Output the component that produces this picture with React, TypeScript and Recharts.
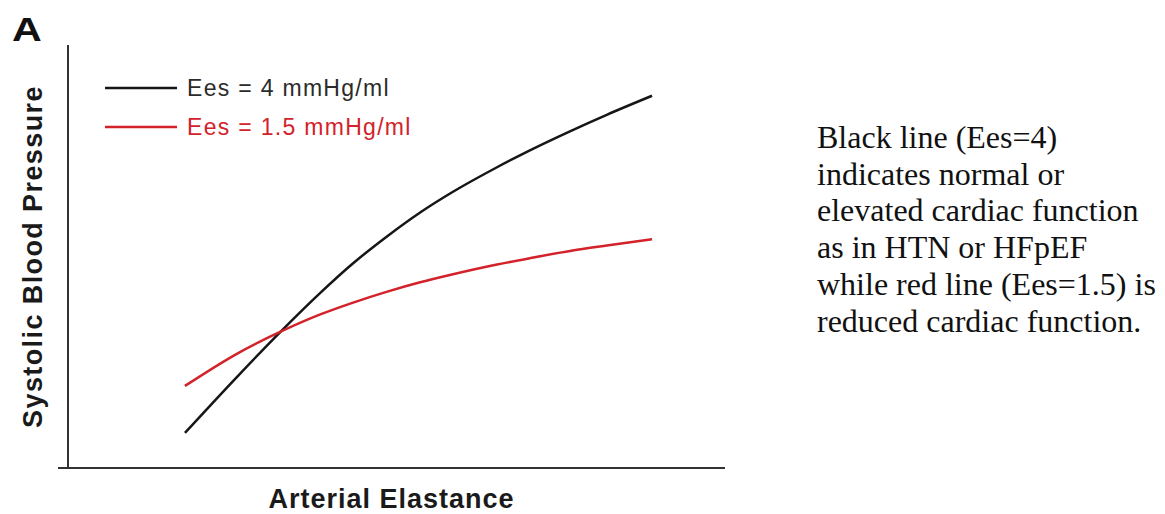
import { Legend, Line, LineChart, ReferenceLine, XAxis, YAxis } from 'recharts'

// readings: arterial elastance (x) vs systolic pressure (y), arbitrary 0-100 units
const elastance = [17.8, 25.7, 32.6, 38.4, 43.4, 48.6, 53.6, 58.6, 65.3, 70.3, 76.4, 82.0, 88.9]
const sbpEes4 = [8.3, 21.5, 32.6, 41.4, 48.4, 54.8, 60.4, 65.3, 71.1, 75.1, 79.6, 83.5, 88.0]
const sbpEes15 = [19.4, 27.0, 32.4, 36.3, 39.1, 41.7, 43.9, 45.8, 48.1, 49.6, 51.3, 52.6, 54.1]

const seriesNames = ['Ees = 4 mmHg/ml', 'Ees = 1.5 mmHg/ml']
const noteLines = [
  'Black line (Ees=4)',
  'indicates normal or',
  'elevated cardiac function',
  'as in HTN or HFpEF',
  'while red line (Ees=1.5) is',
  'reduced cardiac function.',
]

const BLACK = '#161616'
const RED = '#d3222a'
const AXIS = '#333'
const SANS = "'Liberation Sans', Arial, sans-serif"

const rows = elastance.map((x, i) => ({ x, ees4: sbpEes4[i], ees15: sbpEes15[i] }))

function LegendBox({ payload }: { payload?: any[] }) {
  // keep the figure's order (black first) instead of the alphabetical one
  const items = [...(payload ?? [])].sort((a, b) => seriesNames.indexOf(a.value) - seriesNames.indexOf(b.value))
  return (
    <svg width={340} height={80}>
      {items.map((item, i) => {
        const rowY = 18 + i * 39
        const textColor = i === 0 ? '#2b2b2b' : item.color
        return (
          <g key={item.value}>
            <line x1={5} x2={77} y1={rowY} y2={rowY} stroke={item.color} strokeWidth={2.5} />
            <text x={87} y={rowY + 8} fill={textColor} fontSize={23} fontFamily={SANS} style={{ letterSpacing: '1.3px' }}>
              {item.value}
            </text>
          </g>
        )
      })}
    </svg>
  )
}

export default function App() {
  return (
    <div style={{ position: 'absolute', left: 0, top: 0, width: 1165, height: 514, background: '#fff', overflow: 'hidden' }}>
      <svg width={60} height={50} style={{ position: 'absolute', left: 0, top: 0 }}>
        <text
          x={12}
          y={41}
          fontSize={33}
          fontWeight="bold"
          fontFamily={SANS}
          transform="translate(12 0) scale(1.25 1) translate(-12 0)"
          fill="#111"
        >
          A
        </text>
      </svg>

      <div style={{ position: 'absolute', left: 0, top: 0 }}>
        <LineChart width={760} height={514} data={rows} margin={{ top: 45, right: 35, left: 57, bottom: 45 }}>
          <XAxis
            dataKey="x"
            type="number"
            domain={[0, 100]}
            padding={{ left: 10, right: 0 }}
            height={1}
            tick={false}
            tickLine={false}
            axisLine={{ stroke: AXIS, strokeWidth: 2 }}
            label={{
              value: 'Arterial Elastance',
              position: 'bottom',
              offset: 20,
              fontSize: 27,
              fontWeight: 'bold',
              fill: '#1a1a1a',
              fontFamily: SANS,
              style: { letterSpacing: '1px' },
            }}
          />
          <YAxis
            type="number"
            domain={[0, 100]}
            width={1}
            tick={false}
            tickLine={false}
            axisLine={false}
            label={{
              value: 'Systolic Blood Pressure',
              position: 'left',
              angle: -90,
              offset: 25,
              textAnchor: 'middle',
              fontSize: 27,
              fontWeight: 'bold',
              fill: '#1a1a1a',
              fontFamily: SANS,
              style: { letterSpacing: '1.4px' },
            }}
          />
          <ReferenceLine x={0} stroke={AXIS} strokeWidth={2} />
          <Legend
            layout="vertical"
            align="center"
            verticalAlign="middle"
            wrapperStyle={{ left: 100, top: 70, width: 340, height: 80 }}
            content={(props: any) => <LegendBox payload={props.payload} />}
          />
          <Line
            type="monotone"
            dataKey="ees4"
            name={seriesNames[0]}
            stroke={BLACK}
            strokeWidth={2.5}
            dot={false}
            isAnimationActive={false}
          />
          <Line
            type="monotone"
            dataKey="ees15"
            name={seriesNames[1]}
            stroke={RED}
            strokeWidth={2.5}
            dot={false}
            isAnimationActive={false}
          />
        </LineChart>
      </div>

      <div
        style={{
          position: 'absolute',
          left: 817,
          top: 119,
          fontFamily: "'Liberation Serif', 'Times New Roman', serif",
          fontSize: 32,
          lineHeight: '36.7px',
          color: '#111',
          whiteSpace: 'nowrap',
        }}
      >
        {noteLines.map((line) => (
          <div key={line}>{line}</div>
        ))}
      </div>
    </div>
  )
}
